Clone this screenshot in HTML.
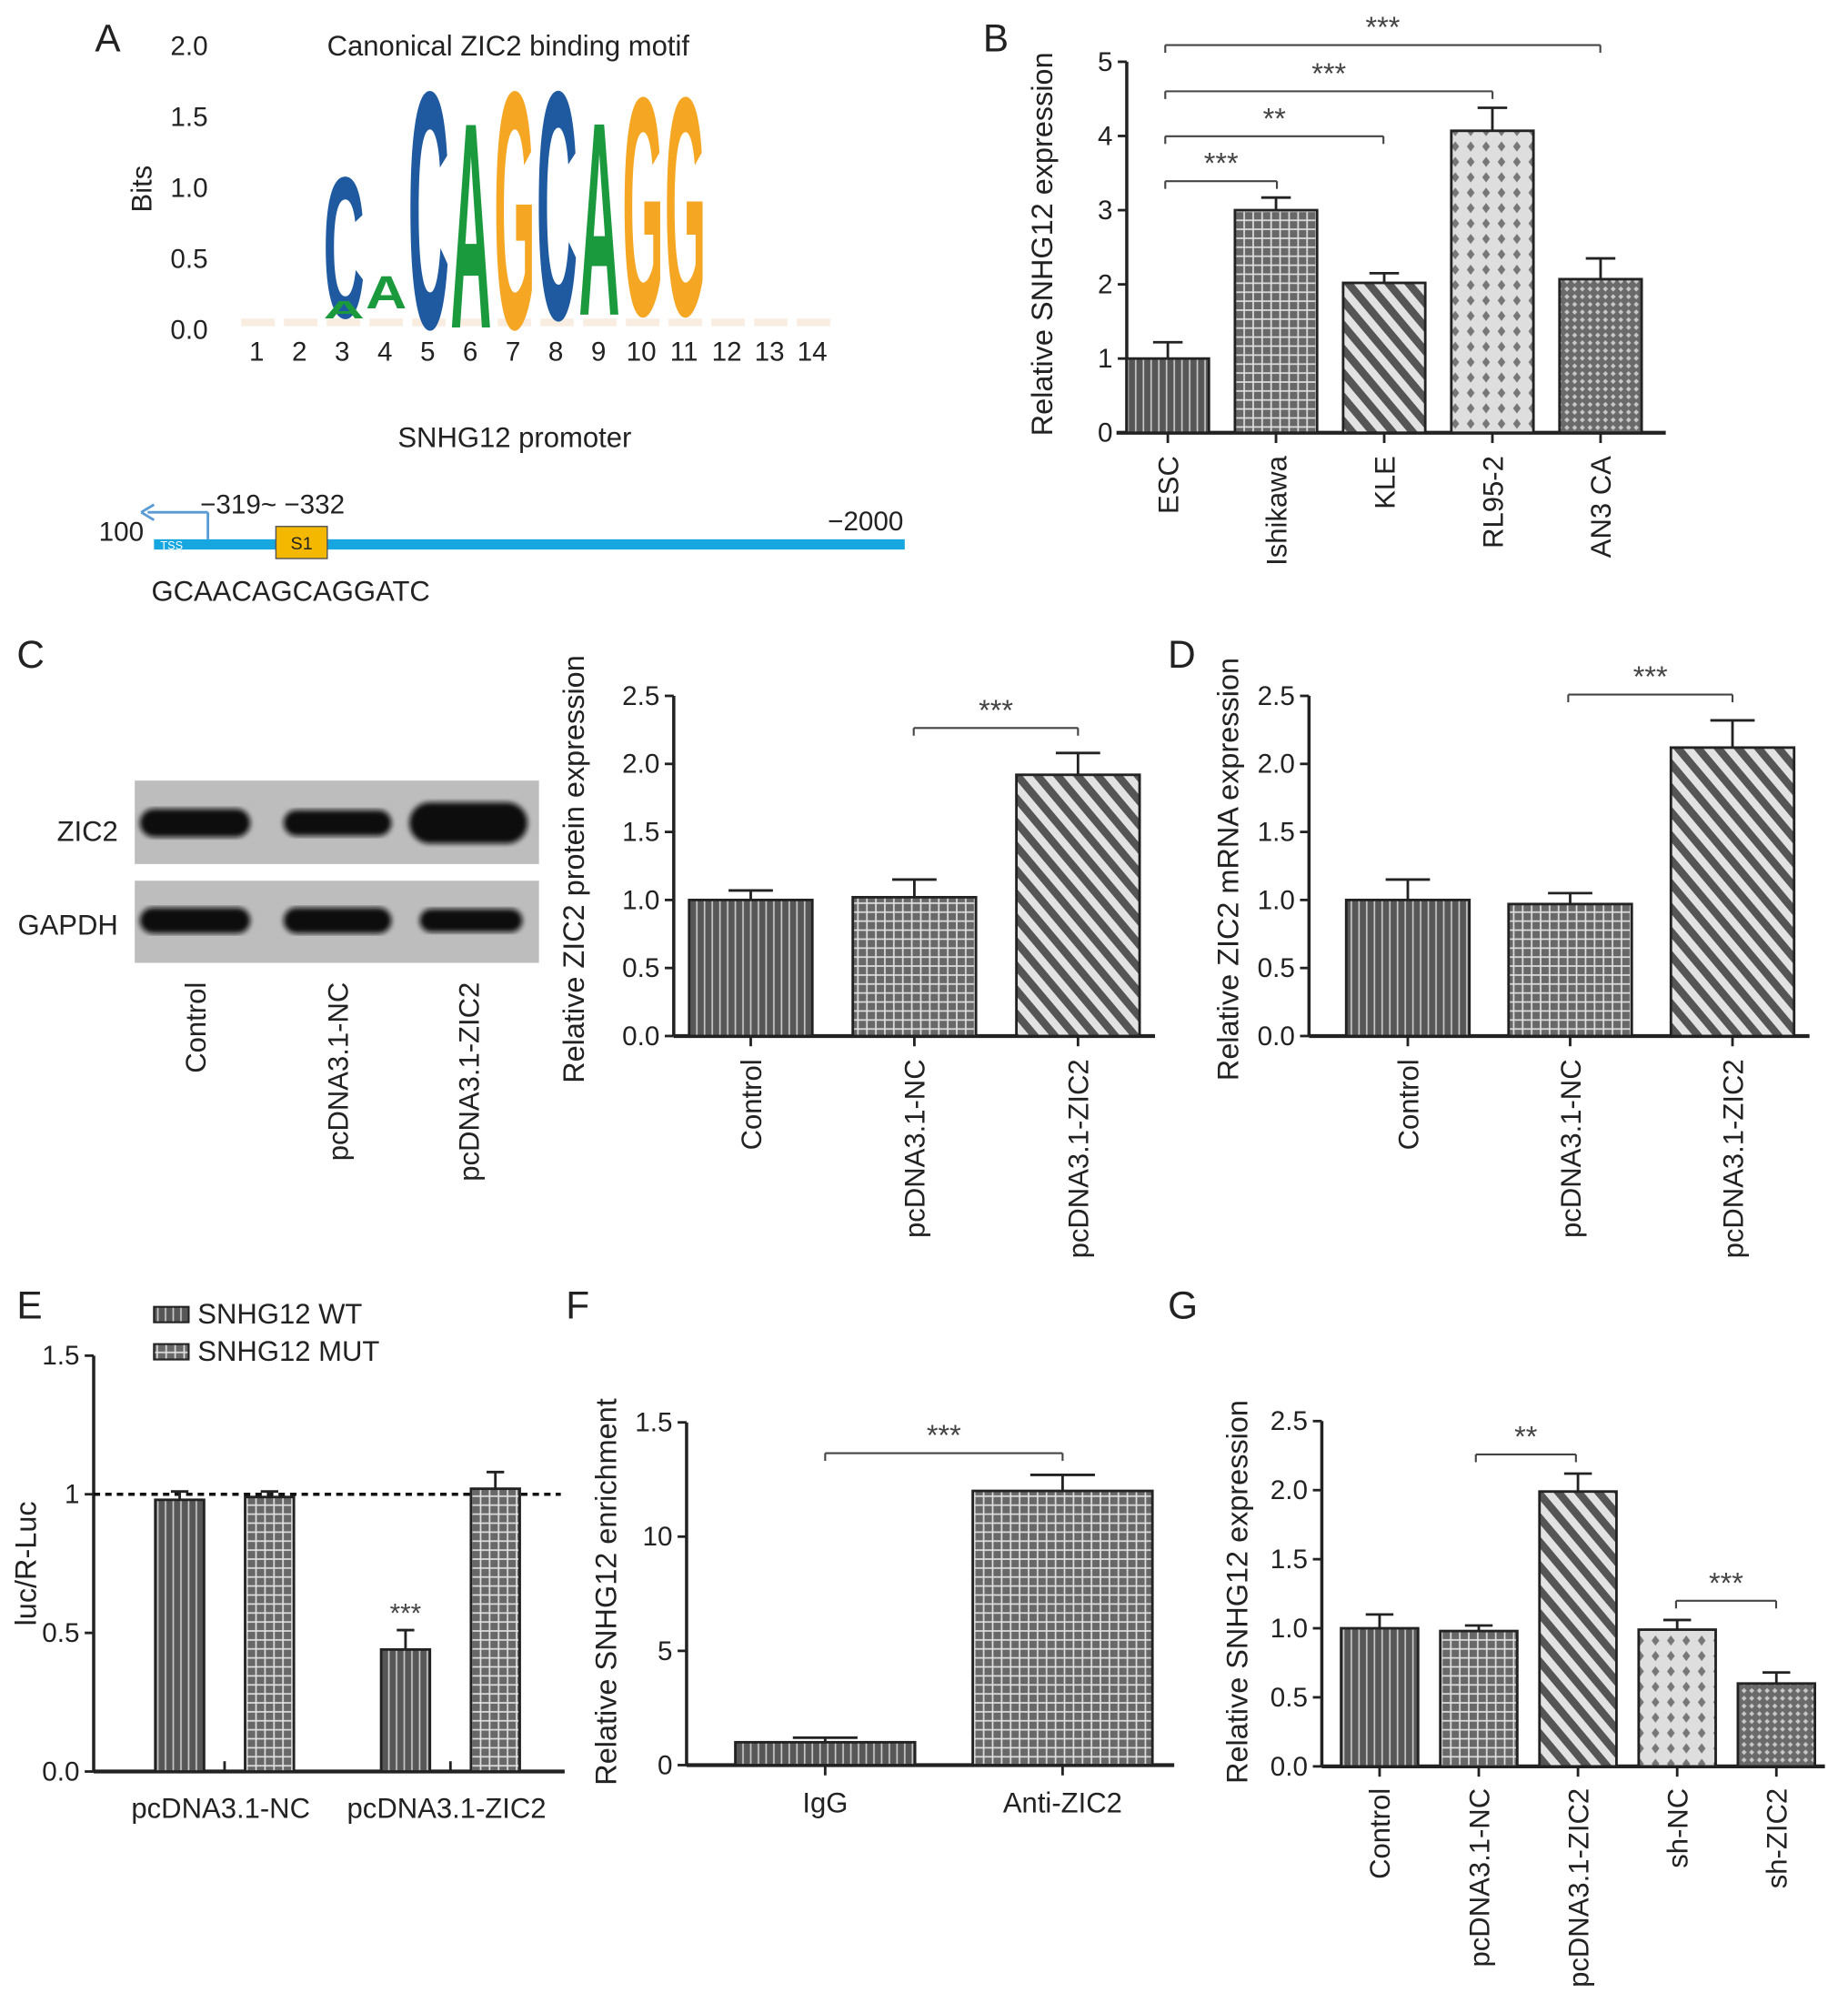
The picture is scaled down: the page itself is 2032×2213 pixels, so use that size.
<!DOCTYPE html>
<html><head><meta charset="utf-8"><style>
html,body{margin:0;padding:0;background:#fff}
svg{display:block;font-family:"Liberation Sans",Arial,sans-serif}
</style></head><body>
<svg id="fig" width="2032" height="2213" viewBox="0 0 1440 1568" xmlns="http://www.w3.org/2000/svg">
<defs>
<pattern id="p-vs" width="6" height="6" patternUnits="userSpaceOnUse"><rect width="6" height="6" fill="#575757"/><line x1="3" y1="0" x2="3" y2="6" stroke="#c8c8c8" stroke-width="1.2"/></pattern>
<pattern id="p-grid" width="7" height="7" patternUnits="userSpaceOnUse"><rect width="7" height="7" fill="#686868"/><line x1="0" y1="3.5" x2="7" y2="3.5" stroke="#e0e0e0" stroke-width="1.2"/><line x1="3.5" y1="0" x2="3.5" y2="7" stroke="#e0e0e0" stroke-width="1.2"/></pattern>
<pattern id="p-diag" width="12" height="12" patternUnits="userSpaceOnUse" patternTransform="rotate(-40)"><rect width="12" height="12" fill="#e2e2e2"/><rect x="0" y="0" width="6" height="12" fill="#555"/></pattern>
<pattern id="p-dots" width="12" height="12" patternUnits="userSpaceOnUse"><rect width="12" height="12" fill="#dedede"/><path d="M6 2 L9 6 L6 10 L3 6Z" fill="#777"/></pattern>
<pattern id="p-dense" width="6" height="6" patternUnits="userSpaceOnUse"><rect width="6" height="6" fill="#6a6a6a"/><path d="M3 1 L5 3 L3 5 L1 3Z" fill="#c8c8c8"/></pattern>
<filter id="blur"><feGaussianBlur stdDeviation="2"/></filter>
</defs>
<g id="root"></g>
</svg>
<script>
// ---------- data ----------
const bCats = ["ESC","Ishikawa","KLE","RL95-2","AN3 CA"];
const bVals = [1.0,3.0,2.02,4.07,2.07];
const bErrs = [0.22,0.17,0.13,0.31,0.28];
const bTicks = ["0","1","2","3","4","5"];
const cCats = ["Control","pcDNA3.1-NC","pcDNA3.1-ZIC2"];
const cVals = [1.0,1.02,1.92];
const cErrs = [0.07,0.13,0.16];
const dVals = [1.0,0.97,2.12];
const dErrs = [0.15,0.08,0.2];
const halfTicks = ["0.0","0.5","1.0","1.5","2.0","2.5"];
const eGroups = ["pcDNA3.1-NC","pcDNA3.1-ZIC2"];
const eWT = [0.98,0.44];
const eWTErr = [0.03,0.07];
const eMUT = [0.99,1.02];
const eMUTErr = [0.02,0.06];
const eTicks = ["0.0","0.5","1","1.5"];
const fCats = ["IgG","Anti-ZIC2"];
const fVals = [1.0,12.0];
const fErrs = [0.2,0.7];
const fTicks = ["0","5","10","1.5"];
const gCats = ["Control","pcDNA3.1-NC","pcDNA3.1-ZIC2","sh-NC","sh-ZIC2"];
const gVals = [1.0,0.98,1.99,0.99,0.60];
const gErrs = [0.1,0.04,0.13,0.07,0.08];

const NS="http://www.w3.org/2000/svg";
const root=document.getElementById('root');
function el(tag,attrs,parent){const e=document.createElementNS(NS,tag);for(const k in attrs)e.setAttribute(k,attrs[k]);(parent||root).appendChild(e);return e;}
function txt(s,x,y,size,name,opts){
  opts=opts||{};
  const t=el('text',{x:x,y:y,'font-size':size,fill:opts.fill||'#222','text-anchor':opts.anchor||'start'});
  if(opts.rot!==undefined)t.setAttribute('transform','rotate('+opts.rot+' '+x+' '+y+')');
  if(opts.weight)t.setAttribute('font-weight',opts.weight);
  t.textContent=s;
  
  
  return t;
}
function line(x1,y1,x2,y2,name,w,col,dash){
  const l=el('line',{x1:x1,y1:y1,x2:x2,y2:y2,stroke:col||'#222','stroke-width':w||2});
  if(dash)l.setAttribute('stroke-dasharray',dash);
  
  
  return l;
}
function bracket(x1,x2,y,stars,name){
  line(x1,y,x2,y,name,1.5,'#444');
  line(x1,y,x1,y+6,name+'-tick',1.5,'#444');
  line(x2,y,x2,y+6,name+'-tick',1.5,'#444');
  txt(stars,(x1+x2)/2,y-6,23,name+'-stars',{anchor:'middle',fill:'#444'});
}
function yAxis(ax,ticks,tickVals,name){
  line(ax.x,ax.y(tickVals[tickVals.length-1]),ax.x,ax.base,name+'-line',2.5);
  ticks.forEach((t,i)=>{const y=ax.y(tickVals[i]);
    line(ax.x-7,y,ax.x,y,name+'-tick',2);
    txt(t,ax.x-11,y+7,21,name+'-tick-label',{anchor:'end'});});
}
function bar(cx,w,val,err,ax,pat,name){
  const y=ax.y(val);
  line(cx,ax.y(val+err),cx,y,name+'-errbar',2);
  line(cx-w*0.18,ax.y(val+err),cx+w*0.18,ax.y(val+err),name+'-errcap',2);
  const r=el('rect',{x:cx-w/2,y:y,width:w,height:ax.base-y,fill:'url(#'+pat+')',stroke:'#222','stroke-width':2});
  
  
}
function mkAx(x,base,top,maxV){return {x:x,base:base,y:v=>base-(base-top)*v/maxV};}

// ---------- Panel A ----------
txt('A',74,40,30,'panel-label-a');
['0.0','0.5','1.0','1.5','2.0'].forEach((t,i)=>txt(t,162,264-i*55.3,21,'motif-y-tick-label',{anchor:'end'}));
txt('Bits',118,147,22,'motif-y-axis-title',{anchor:'middle',rot:-90});
txt('Canonical ZIC2 binding motif',396,43,22,'motif-title',{anchor:'middle'});
for(let i=0;i<14;i++)txt(String(i+1),200+i*33.3,281,21,'motif-position-label',{anchor:'middle'});
for(let i=0;i<14;i++){const r=el('rect',{x:188+i*33.3,y:248,width:26,height:6,fill:'#f3dcc4',opacity:0.5});}
const motifLetters=[['C',268,247,113,'#1f5aa0'],['A',268,248,14,'#1a9a3c'],['A',301,240,26,'#1a9a3c'],['C',334,255,190,'#1f5aa0'],['A',367,255,165,'#1a9a3c'],['G',401,255,190,'#f5a623'],['C',434,248,183,'#1f5aa0'],['A',467,245,155,'#1a9a3c'],['G',501,245,175,'#f5a623'],['G',534,245,175,'#f5a623']];
motifLetters.forEach(m=>{
  const t=el('text',{x:0,y:0,'font-size':100,fill:m[4],'font-weight':'bold',textLength:70,lengthAdjust:'spacingAndGlyphs',transform:'translate('+(m[1]-16)+','+m[2]+') scale('+(32/70)+','+(m[3]/72)+')'});
  t.textContent=m[0];
  
  
});
txt('SNHG12 promoter',401,348,22,'promoter-title',{anchor:'middle'});
const pb=el('rect',{x:120,y:420,width:585,height:8,fill:'#16a6e0'});
txt('TSS',125,428,9,'tss-label',{fill:'#fff'});
line(162,420,162,399,'tss-arrow',2,'#5b9bd5');line(162,399,115,399,'tss-arrow',2,'#5b9bd5');
const ah=el('path',{d:'M110 399 L120 393 M110 399 L120 405',stroke:'#5b9bd5','stroke-width':2,fill:'none'});
txt('100',77,421,21,'promoter-start-label');
txt('\u2212319~ \u2212332',156,400,21,'site-position-label');
txt('\u22122000',645,413,21,'promoter-end-label');
const s1=el('rect',{x:215,y:410,width:40,height:25,fill:'#f5b800',stroke:'#555','stroke-width':1});
txt('S1',235,428,14,'binding-site-s1-label',{anchor:'middle'});
txt('GCAACAGCAGGATC',118,468,22,'binding-sequence');

// ---------- Panel B ----------
txt('B',766,40,30,'panel-label-b');
const axB=mkAx(878,337,48,5);
yAxis(axB,bTicks,[0,1,2,3,4,5],'b-y-axis');
line(870,337,1298,337,'b-x-axis',3);
txt('Relative SNHG12 expression',820,190,23,'b-y-axis-title',{anchor:'middle',rot:-90});
const bPats=['p-vs','p-grid','p-diag','p-dots','p-dense'];
bCats.forEach((c,i)=>{const cx=910+i*84.3;
  bar(cx,64,bVals[i],bErrs[i],axB,bPats[i],'b-bar-'+c);
  line(cx,337,cx,345,'b-x-tick',2);
  txt(c,cx+8,355,22,'b-x-label',{anchor:'end',rot:-90});});
bracket(908,995,141,'***','b-sig-esc-ishikawa');
bracket(908,1078,106,'**','b-sig-esc-kle');
bracket(908,1163,71,'***','b-sig-esc-rl95');
bracket(908,1247,35,'***','b-sig-esc-an3ca');

// ---------- Panel C: blot ----------
txt('C',13,520,30,'panel-label-c');
[[608,673,'zic2-blot'],[686,750,'gapdh-blot']].forEach(b=>{const r=el('rect',{x:105,y:b[0],width:315,height:b[1]-b[0],fill:'#bdbdbd'});});
[[152,641,86,22],[263,641,84,20],[365,641,92,32],[152,717,86,20],[263,717,84,20],[367,717,80,18]].forEach(b=>{const e=el('rect',{x:b[0]-b[2]/2,y:b[1]-b[3]/2,width:b[2],height:b[3],rx:b[3]/2,fill:'#0d0d0d',filter:'url(#blur)'});});
txt('ZIC2',92,655,22,'zic2-row-label',{anchor:'end'});
txt('GAPDH',92,728,22,'gapdh-row-label',{anchor:'end'});
cCats.forEach((c,i)=>txt(c,[152,263,365][i]+8,765,22,'blot-lane-label',{anchor:'end',rot:-90}));

// Panel C chart
const axC=mkAx(525,807,542,2.5);
yAxis(axC,halfTicks,[0,0.5,1,1.5,2,2.5],'c-y-axis');
line(525,807,900,807,'c-x-axis',3);
txt('Relative ZIC2 protein expression',455,677,23,'c-y-axis-title',{anchor:'middle',rot:-90});
const cPats=['p-vs','p-grid','p-diag'];
cCats.forEach((c,i)=>{const cx=585+i*127.5;
  bar(cx,96,cVals[i],cErrs[i],axC,cPats[i],'c-bar-'+c);
  line(cx,807,cx,815,'c-x-tick',2);
  txt(c,cx+8,825,22,'c-x-label',{anchor:'end',rot:-90});});
bracket(712,840,567,'***','c-sig');

// ---------- Panel D ----------
txt('D',910,520,30,'panel-label-d');
const axD=mkAx(1020,807,542,2.5);
yAxis(axD,halfTicks,[0,0.5,1,1.5,2,2.5],'d-y-axis');
line(1020,807,1410,807,'d-x-axis',3);
txt('Relative ZIC2 mRNA expression',965,677,23,'d-y-axis-title',{anchor:'middle',rot:-90});
cCats.forEach((c,i)=>{const cx=1097+i*126.5;
  bar(cx,96,dVals[i],dErrs[i],axD,cPats[i],'d-bar-'+c);
  line(cx,807,cx,815,'d-x-tick',2);
  txt(c,cx+8,825,22,'d-x-label',{anchor:'end',rot:-90});});
bracket(1222,1350,541,'***','d-sig');

// ---------- Panel E ----------
txt('E',13,1027,30,'panel-label-e');
[[1018,'p-vs','SNHG12 WT'],[1047,'p-grid','SNHG12 MUT']].forEach(l=>{
  const r=el('rect',{x:120,y:l[0],width:27,height:12,fill:'url(#'+l[1]+')',stroke:'#222','stroke-width':1.5});
  
  
  txt(l[2],154,l[0]+13,22,'legend-entry');});
const axE=mkAx(73,1380,1056,1.5);
yAxis(axE,eTicks,[0,0.5,1,1.5],'e-y-axis');
line(73,1380,440,1380,'e-x-axis',3);
txt('luc/R-Luc',28,1218,23,'e-y-axis-title',{anchor:'middle',rot:-90});
line(73,axE.y(1),437,axE.y(1),'e-reference-line',2.5,'#111','5,4');
eGroups.forEach((g,i)=>{const gx=175+i*176;
  bar(gx-35,38,eWT[i],eWTErr[i],axE,'p-vs','e-bar-wt-'+g);
  bar(gx+35,38,eMUT[i],eMUTErr[i],axE,'p-grid','e-bar-mut-'+g);
  line(gx,1380,gx,1372,'e-x-tick',2);
  txt(g,gx-3,1416,22,'e-x-label',{anchor:'middle'});});
txt('***',316,axE.y(eWT[1]+eWTErr[1])-6,21,'e-sig',{anchor:'middle',fill:'#444'});

// ---------- Panel F ----------
txt('F',441,1027,30,'panel-label-f');
const axF=mkAx(535,1375,1108,15);
yAxis(axF,fTicks,[0,5,10,15],'f-y-axis');
line(535,1375,915,1375,'f-x-axis',3);
txt('Relative SNHG12 enrichment',480,1240,23,'f-y-axis-title',{anchor:'middle',rot:-90});
const fPats=['p-vs','p-grid'];
fCats.forEach((c,i)=>{const cx=643+i*185;
  bar(cx,140,fVals[i],fErrs[i],axF,fPats[i],'f-bar-'+c);
  line(cx,1375,cx,1383,'f-x-tick',2);
  txt(c,cx,1412,22,'f-x-label',{anchor:'middle'});});
bracket(643,828,1132,'***','f-sig');

// ---------- Panel G ----------
txt('G',910,1027,30,'panel-label-g');
const axG=mkAx(1030,1376,1107,2.5);
yAxis(axG,halfTicks,[0,0.5,1,1.5,2,2.5],'g-y-axis');
line(1030,1376,1422,1376,'g-x-axis',3);
txt('Relative SNHG12 expression',972,1240,23,'g-y-axis-title',{anchor:'middle',rot:-90});
gCats.forEach((c,i)=>{const cx=1075+i*77.3;
  bar(cx,60,gVals[i],gErrs[i],axG,bPats[i],'g-bar-'+c);
  line(cx,1376,cx,1384,'g-x-tick',2);
  txt(c,cx+8,1393,22,'g-x-label',{anchor:'end',rot:-90});});
bracket(1150,1228,1133,'**','g-sig-overexpression');
bracket(1306,1384,1247,'***','g-sig-knockdown');
</script>
</body></html>
